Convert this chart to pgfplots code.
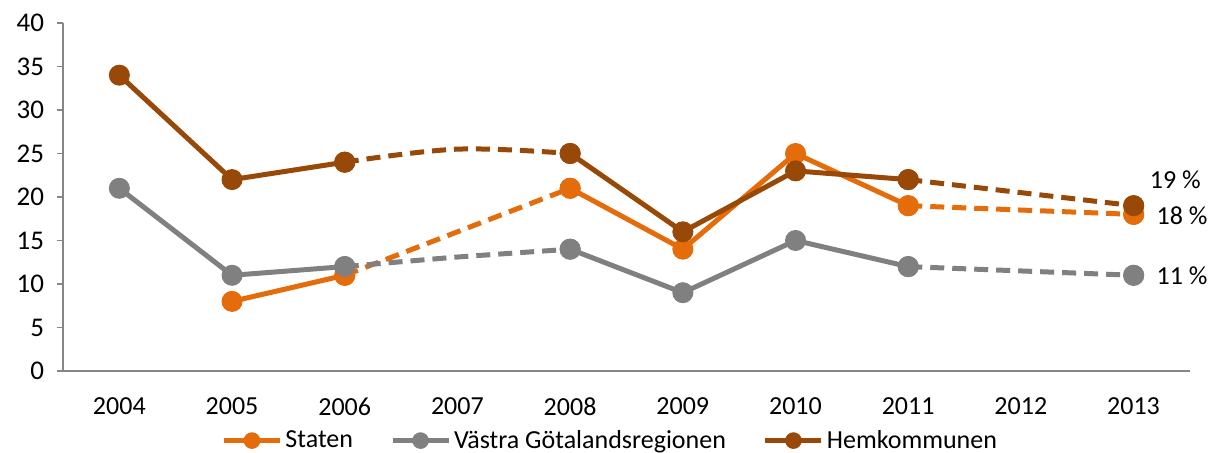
\documentclass[border=0pt]{standalone}
\usepackage{fontspec}
\setmainfont{Carlito}
\usepackage{pgfplots}
\pgfplotsset{compat=1.18}
\definecolor{cStat}{RGB}{228,108,10}
\definecolor{cVGR}{RGB}{128,128,128}
\definecolor{cHem}{RGB}{152,72,7}
\definecolor{axgray}{RGB}{134,134,134}
\begin{document}
\begin{tikzpicture}
\begin{axis}[
  name=ax,
  scale only axis,
  width=563.5pt, height=174pt,
  xmin=2003.5, xmax=2013.5,
  ymin=0, ymax=40,
  ytick={0,5,...,40},
  xtick={2004,...,2013},
  xticklabels={2004,2005,2006,2007,2008,2009,2010,2011,2012,2013},
  major x tick style={draw=none},
  extra x ticks={2003.5,2004.5,...,2013.5},
  extra x tick labels={},
  extra x tick style={major tick length=3pt, tick style={draw=axgray, line width=0.8pt}, tick align=outside},
  axis x line*=bottom, axis y line*=left,
  axis line style={draw=axgray, line width=0.8pt, -},
  tick align=outside, major tick length=3pt,
  ytick style={draw=axgray, line width=0.8pt},
  /pgf/number format/assume math mode=true,
  /pgf/number format/1000 sep={},
  tick label style={font=\fontsize{13}{15}\selectfont, black},
  yticklabel style={font=\fontsize{13.5}{15}\selectfont, xshift=-3pt},
  xticklabel style={yshift=-7pt},
  clip=false,
  legend style={at={(0.486,-0.2)}, anchor=center, draw=none, legend columns=3,
    font=\fontsize{13}{15}\selectfont, /tikz/every even column/.append style={column sep=17pt},
    inner sep=0pt, nodes={inner sep=1.5pt}},
  legend cell align=left,
  legend image code/.code={\draw[#1, mark size=3.9pt, mark repeat=2, mark phase=2] plot coordinates {(0pt,0pt) (14pt,0pt) (28pt,0pt)};},
  unbounded coords=jump,
]
% Staten
\addplot[cStat, line width=2.5pt, mark=*, mark size=5pt, mark options={solid, fill=cStat, line width=0.5pt}]
  coordinates {(2005,8) (2006,11) (2007,nan) (2008,21) (2009,14) (2010,25) (2011,19) (2012,nan) (2013,18)};
\addlegendentry{Staten}
% VGR
\addplot[cVGR, line width=2.5pt, mark=*, mark size=5pt, mark options={solid, fill=cVGR, line width=0.5pt}]
  coordinates {(2004,21) (2005,11) (2006,12) (2007,nan) (2008,14) (2009,9) (2010,15) (2011,12) (2012,nan) (2013,11)};
\addlegendentry{Västra Götalandsregionen}
% Hemkommunen
\addplot[cHem, line width=2.5pt, mark=*, mark size=5pt, mark options={solid, fill=cHem, line width=0.5pt}]
  coordinates {(2004,34) (2005,22) (2006,24) (2007,nan) (2008,25) (2009,16) (2010,23) (2011,22) (2012,nan) (2013,19)};
\addlegendentry{Hemkommunen}
% dashed gap segments
\addplot[cStat, line width=2.5pt, dash pattern=on 7pt off 4pt, forget plot] coordinates {(2006,11) (2008,21)};
\addplot[cStat, line width=2.5pt, dash pattern=on 7pt off 4pt, forget plot] coordinates {(2011,19) (2013,18)};
\addplot[cVGR, line width=2.5pt, dash pattern=on 7pt off 4pt, forget plot, smooth, tension=0.3] coordinates {(2006,12) (2007,13.1) (2008,14)};
\addplot[cVGR, line width=2.5pt, dash pattern=on 7pt off 4pt, forget plot] coordinates {(2011,12) (2013,11)};
\addplot[cHem, line width=2.5pt, dash pattern=on 7pt off 4pt, forget plot, smooth, tension=0.6] coordinates {(2006,24) (2007,25.5) (2008,25)};
\addplot[cHem, line width=2.5pt, dash pattern=on 7pt off 4pt, forget plot] coordinates {(2011,22) (2013,19)};
% redraw markers on top of dashes
\addplot[cStat, only marks, mark=*, mark size=5pt, mark options={fill=cStat, line width=0.5pt}, forget plot]
  coordinates {(2006,11) (2008,21) (2011,19) (2013,18)};
\addplot[cVGR, only marks, mark=*, mark size=5pt, mark options={fill=cVGR, line width=0.5pt}, forget plot]
  coordinates {(2006,12) (2008,14) (2011,12) (2013,11)};
\addplot[cHem, only marks, mark=*, mark size=5pt, mark options={fill=cHem, line width=0.5pt}, forget plot]
  coordinates {(2006,24) (2008,25) (2011,22) (2013,19)};
\node[font=\fontsize{13}{15}\selectfont] at (axis cs:2013.37,21.95) {19 \%};
\node[font=\fontsize{13}{15}\selectfont] at (axis cs:2013.43,17.8) {18 \%};
\node[font=\fontsize{13}{15}\selectfont] at (axis cs:2013.43,10.9) {11 \%};
\end{axis}
\pgfresetboundingbox
\path ([shift={(-31.5pt,-41pt)}]ax.south west) rectangle ([shift={(9pt,11.5pt)}]ax.north east);
\end{tikzpicture}
\end{document}
